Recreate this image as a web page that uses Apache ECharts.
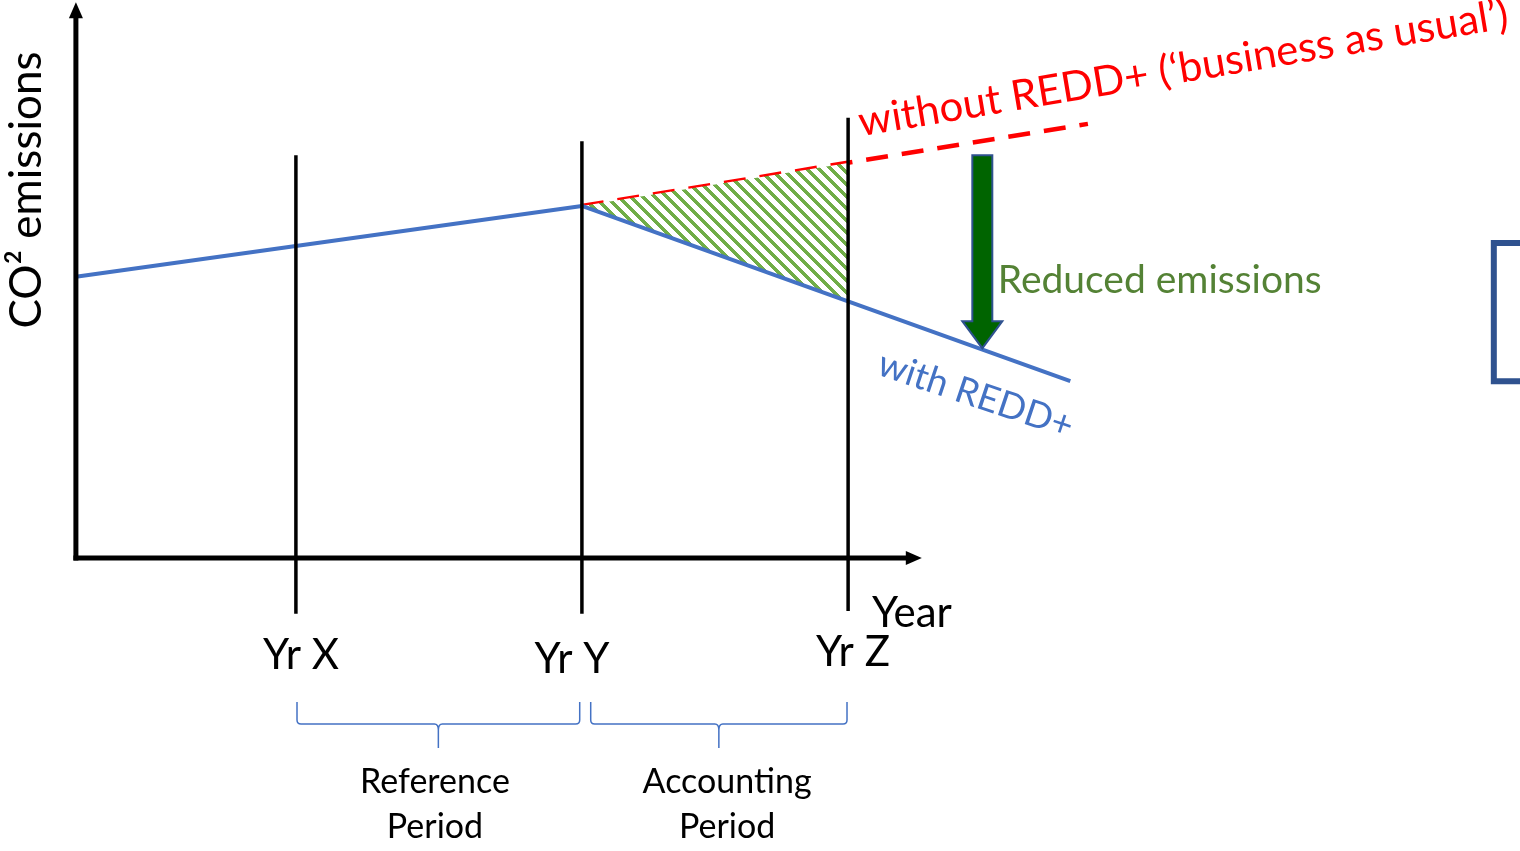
<!DOCTYPE html>
<html>
<head>
<meta charset="utf-8">
<title>REDD+ emissions</title>
<script src="https://cdn.jsdelivr.net/npm/echarts@6/dist/echarts.min.js"></script>
<style>
    html, body { margin: 0; padding: 0; background: #fff; }
    #chart-container { width: 1520px; height: 851px; }
</style>
</head>
<body>
<div id="chart-container"></div>
<script>
// x: years counted from the origin, y: emission units (0 = x axis)
var yearNames = ['Yr X', 'Yr Y', 'Yr Z'];
var yearValues = [10, 23, 35.1];
var yearLineTop = [72.2, 74.7, 78.9];
var yearLineBottom = [-10, -10, -9.5];

var withRedd = [[0, 50.4], [23, 63.1], [45.2, 31.7]];
var withoutRedd = [[23, 63.1], [46, 77.8]];
var savedArea = [[23, 63.1], [35.1, 70.8], [35.1, 46.0]];
var reduction = [41.2, 72.2, 37.6];   // x, from, to

var periodNames = ['Reference\nPeriod', 'Accounting\nPeriod'];
var periodRanges = [[10.05, 22.9], [23.4, 35.05]];

var axisEnds = [[0, 0, 0, 99.6], [0, 0, 38.45, 0]];

// text placement (chart units) and look
var font = 'Lato';
var yearLabelAt = [[10.23, -17.4], [22.55, -18.1], [35.32, -16.85]];
var periodLabelAt = [[16.32, -44.2], [29.6, -44.2]];
var notes = [
    {text: 'CO² emissions', at: [-2.23, 65.95], rot: 90, size: 44, color: '#000'},
    {text: 'Year', at: [38.0, -9.86], size: 42, color: '#000'},
    {text: 'Reduced emissions', at: [41.9, 49.8], size: 39, color: '#548235', align: 'left'},
    {text: 'without REDD+ (‘business as usual’)', at: [50.34, 87.7], rot: 9.5, size: 42, color: '#ff0000'},
    {text: 'with REDD+', at: [40.9, 29.2], rot: -18.5, size: 37, color: '#4472c4'}
];
for (var i = 0; i < yearNames.length; i++) {
    notes.push({text: yearNames[i], at: yearLabelAt[i], size: 42, color: '#000'});
}
for (var j = 0; j < periodNames.length; j++) {
    notes.push({text: periodNames[j], at: periodLabelAt[j], size: 34, color: '#000', lineHeight: 45});
}

// green diagonal hatch, drawn pixel by pixel row so it stays crisp
function hatchPattern() {
    var s = 12, w = 5;
    var c = document.createElement('canvas');
    c.width = s;
    c.height = s;
    var ctx = c.getContext('2d');
    ctx.fillStyle = '#fff';
    ctx.fillRect(0, 0, s, s);
    ctx.fillStyle = '#70ad47';
    for (var y = 0; y < s; y++) {
        for (var x = 0; x < w; x++) {
            ctx.fillRect((y + x) % s, y, 1, 1);
        }
    }
    return {image: c, repeat: 'repeat'};
}

function renderAxis(params, api) {
    var p0 = api.coord([api.value(0), api.value(1)]);
    var p1 = api.coord([api.value(2), api.value(3)]);
    var dx = p1[0] - p0[0], dy = p1[1] - p0[1];
    var len = Math.sqrt(dx * dx + dy * dy);
    var ux = dx / len, uy = dy / len;
    var head = 16, half = 7;
    var b = [p1[0] - ux * head, p1[1] - uy * head];
    return {
        type: 'group',
        children: [
            {type: 'line', shape: {x1: p0[0], y1: p0[1], x2: b[0], y2: b[1]},
                style: {stroke: '#000', lineWidth: 5, lineCap: 'square'}},
            {type: 'polygon', shape: {points: [p1, [b[0] - uy * half, b[1] + ux * half], [b[0] + uy * half, b[1] - ux * half]]},
                style: {fill: '#000'}}
        ]
    };
}

function renderYearLine(params, api) {
    var a = api.coord([api.value(0), api.value(1)]);
    var b = api.coord([api.value(0), api.value(2)]);
    return {type: 'line', shape: {x1: a[0], y1: a[1], x2: b[0], y2: b[1]},
        style: {stroke: '#000', lineWidth: 3.5}};
}

function renderHatch(params, api) {
    var pts = [];
    for (var k = 0; k < 3; k++) {
        pts.push(api.coord([api.value(2 * k), api.value(2 * k + 1)]));
    }
    return {type: 'polygon', shape: {points: pts}, style: {fill: hatchPattern()}};
}

function renderArrow(params, api) {
    var top = api.coord([api.value(0), api.value(1)]);
    var tip = api.coord([api.value(0), api.value(2)]);
    var cx = top[0], sh = 10, hh = 20, hl = 27;
    var hb = tip[1] - hl;
    return {
        type: 'polygon',
        shape: {points: [[cx - sh, top[1]], [cx + sh, top[1]], [cx + sh, hb], [cx + hh, hb],
            [cx, tip[1]], [cx - hh, hb], [cx - sh, hb]]},
        style: {fill: '#006400', stroke: '#2f528f', lineWidth: 2}
    };
}

function renderBrace(params, api) {
    var a = api.coord([api.value(0), -25.8]);
    var b = api.coord([api.value(1), -25.8]);
    var x1 = a[0], x2 = b[0], y0 = a[1];
    var xm = (x1 + x2) / 2, yh = y0 + 22, yt = y0 + 46, r = 4;
    var d = 'M' + x1 + ' ' + y0 + ' L' + x1 + ' ' + (yh - r) + ' Q' + x1 + ' ' + yh + ' ' + (x1 + r) + ' ' + yh +
        ' L' + (xm - r) + ' ' + yh + ' Q' + xm + ' ' + yh + ' ' + xm + ' ' + (yh + 6) + ' L' + xm + ' ' + yt +
        ' M' + xm + ' ' + (yh + 6) + ' Q' + xm + ' ' + yh + ' ' + (xm + r) + ' ' + yh +
        ' L' + (x2 - r) + ' ' + yh + ' Q' + x2 + ' ' + yh + ' ' + x2 + ' ' + (yh - r) + ' L' + x2 + ' ' + y0;
    return {type: 'path', shape: {pathData: d}, style: {stroke: '#4472c4', lineWidth: 1.5, fill: null}};
}

function renderBox(params, api) {
    var a = api.coord([api.value(0), api.value(3)]);
    var b = api.coord([api.value(2), api.value(1)]);
    return {type: 'rect', shape: {x: a[0], y: a[1], width: b[0] - a[0], height: b[1] - a[1]},
        style: {fill: '#fff', stroke: '#2f528f', lineWidth: 6}};
}

function renderNote(params, api) {
    var n = notes[params.dataIndex];
    var p = api.coord([api.value(0), api.value(1)]);
    return {
        type: 'text', x: p[0], y: p[1], rotation: (n.rot || 0) * Math.PI / 180,
        style: {text: n.text, fill: n.color, fontSize: n.size, fontFamily: font,
            align: n.align || 'center', verticalAlign: 'middle', lineHeight: n.lineHeight || n.size * 1.2}
    };
}

var dom = document.getElementById('chart-container');
var myChart = echarts.init(dom, null, {renderer: 'canvas'});
var option = {
    animation: false,
    backgroundColor: '#fff',
    grid: {left: 0, right: 0, top: 0, bottom: 0},
    xAxis: {type: 'value', min: -3.45, max: 65.64, show: false},
    yAxis: {type: 'value', min: -52.5, max: 100, show: false},
    series: [
        {
            name: 'without REDD+', type: 'line', data: withoutRedd, symbol: 'none', z: 2,
            lineStyle: {color: '#ff0000', width: 4.5, type: [22, 14]}
        },
        {name: 'saved', type: 'custom', renderItem: renderHatch, data: [[].concat.apply([], savedArea)], z: 3, silent: true},
        {
            name: 'with REDD+', type: 'line', data: withRedd, symbol: 'none', z: 4,
            lineStyle: {color: '#4472c4', width: 4}
        },
        {name: 'years', type: 'custom', renderItem: renderYearLine, z: 5, silent: true,
            data: yearValues.map(function (v, i) { return [v, yearLineTop[i], yearLineBottom[i]]; })},
        {name: 'axes', type: 'custom', renderItem: renderAxis, data: axisEnds, z: 6, silent: true},
        {name: 'reduction', type: 'custom', renderItem: renderArrow, data: [reduction], z: 6, silent: true},
        {name: 'periods', type: 'custom', renderItem: renderBrace, data: periodRanges, z: 6, silent: true},
        {name: 'box', type: 'custom', renderItem: renderBox, data: [[64.45, 31.7, 72, 56.45]], z: 6, silent: true},
        {name: 'notes', type: 'custom', renderItem: renderNote, z: 7, silent: true,
            data: notes.map(function (n) { return n.at; })}
    ]
};
myChart.setOption(option);
window.addEventListener('resize', myChart.resize);
</script>
</body>
</html>
